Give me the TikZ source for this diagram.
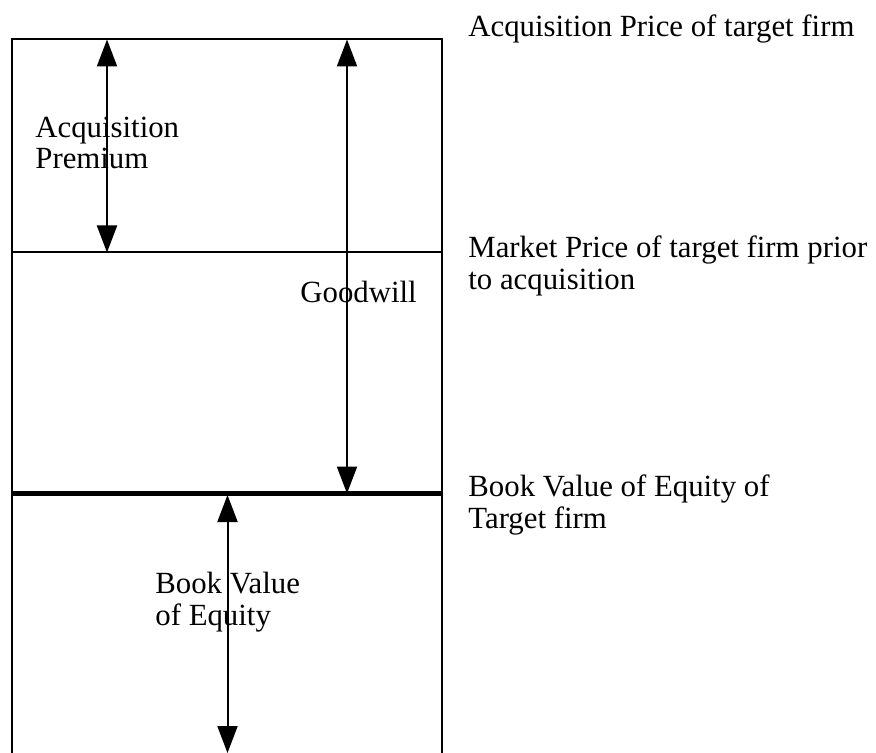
\documentclass[tikz,border=0pt]{standalone}
\usepackage{fontspec}
\setmainfont{Liberation Serif}
\usetikzlibrary{arrows.meta}
\tikzset{
  span/.style={line width=1pt,{Triangle[length=13.5pt,width=10pt]}-{Triangle[length=13.5pt,width=10pt]}},
  lbl/.style={anchor=base west,inner sep=0pt,align=left,font=\fontsize{15.4}{15.6}\selectfont},
}
\begin{document}
\begin{tikzpicture}[x=0.5pt,y=-0.5pt]
    \useasboundingbox (0,0) rectangle (876,753);
    \path (11.5,39.5) coordinate(tl) (441.5,39.5) coordinate(tr)
      (11.5,753) coordinate(bl) (441.5,753) coordinate(br)
      (11.5,252.5) coordinate(ml) (441.5,252.5) coordinate(mr)
      (11.5,493.5) coordinate(bl2) (441.5,493.5) coordinate(br2);
    \draw[line width=1pt] (bl) -- (tl) -- (tr) -- (br);
    \draw[line width=1pt] (ml) -- (mr);
    \draw[line width=2.2pt] (bl2) -- (br2);

    % multi-line labels sit on the baseline of their last line
    \node[lbl] (prem) at (35,169) {Acquisition\\Premium};
    \node[lbl] (gw) at (300,302) {Goodwill};
    \node[lbl] (bve) at (155,625) {Book Value\\of Equity};
    \node[lbl] (acq) at (468,37) {Acquisition Price of target firm};
    \node[lbl] (mkt) at (468,289) {Market Price of target firm prior\\to acquisition};
    \node[lbl] (bvt) at (468,528) {Book Value of Equity of\\Target firm};

    \path (107,39.5) coordinate(p1) (107,252.5) coordinate(p0)
      (347,39.5) coordinate(g1) (347,493.5) coordinate(g0)
      (227.5,495) coordinate(b1) (227.5,753) coordinate(b0);
    \draw[span] (p0) -- (p1);
    \draw[span] (g0) -- (g1);
    \draw[span] (b0) -- (b1);
\end{tikzpicture}
\end{document}
